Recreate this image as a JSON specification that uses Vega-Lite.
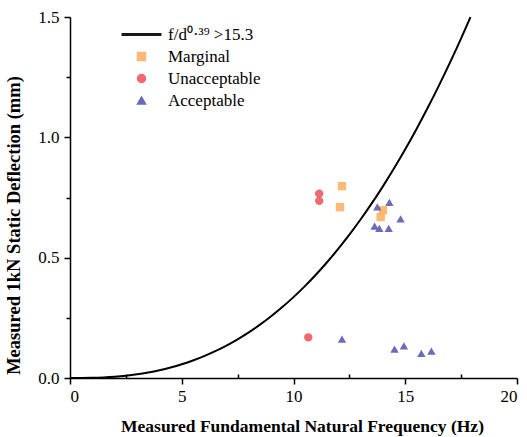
{
  "$schema": "https://vega.github.io/schema/vega-lite/v6.json",
  "width": 447,
  "height": 361,
  "autosize": {"type": "none"},
  "padding": {"left": 70, "top": 17, "right": 10, "bottom": 59},
  "background": "white",
  "config": {
    "view": {"stroke": null},
    "font": "Liberation Serif, Times New Roman, serif",
    "legend": {"labelFont": "Liberation Serif, Times New Roman, serif"},
    "axis": {
      "domainColor": "black", "domainWidth": 1.5, "tickColor": "black", "tickWidth": 1.5,
      "labelFont": "Liberation Serif, Times New Roman, serif", "labelFontSize": 17, "labelColor": "black",
      "titleFont": "Liberation Serif, Times New Roman, serif", "titleFontSize": 17.5, "titleFontWeight": "bold", "titleColor": "black",
      "grid": false
    }
  },
  "data": {"values": [
    {"f": 12.17, "d": 0.797, "type": "Marginal"},
    {"f": 12.08, "d": 0.71, "type": "Marginal"},
    {"f": 14.0, "d": 0.697, "type": "Marginal"},
    {"f": 13.9, "d": 0.669, "type": "Marginal"},
    {"f": 11.15, "d": 0.766, "type": "Unacceptable"},
    {"f": 11.15, "d": 0.736, "type": "Unacceptable"},
    {"f": 10.66, "d": 0.169, "type": "Unacceptable"},
    {"f": 13.75, "d": 0.711, "type": "Acceptable"},
    {"f": 14.29, "d": 0.73, "type": "Acceptable"},
    {"f": 14.79, "d": 0.661, "type": "Acceptable"},
    {"f": 13.63, "d": 0.631, "type": "Acceptable"},
    {"f": 13.84, "d": 0.622, "type": "Acceptable"},
    {"f": 14.26, "d": 0.622, "type": "Acceptable"},
    {"f": 12.17, "d": 0.162, "type": "Acceptable"},
    {"f": 14.52, "d": 0.12, "type": "Acceptable"},
    {"f": 14.94, "d": 0.133, "type": "Acceptable"},
    {"f": 15.72, "d": 0.102, "type": "Acceptable"},
    {"f": 16.17, "d": 0.112, "type": "Acceptable"},
    {"f": 0, "d": 0, "type": "f/d⁰·³⁹ >15.3"},
    {"f": 0.5, "d": 0.000155, "type": "f/d⁰·³⁹ >15.3"},
    {"f": 1, "d": 0.000918, "type": "f/d⁰·³⁹ >15.3"},
    {"f": 1.5, "d": 0.00259, "type": "f/d⁰·³⁹ >15.3"},
    {"f": 2, "d": 0.00542, "type": "f/d⁰·³⁹ >15.3"},
    {"f": 2.5, "d": 0.00961, "type": "f/d⁰·³⁹ >15.3"},
    {"f": 3, "d": 0.01533, "type": "f/d⁰·³⁹ >15.3"},
    {"f": 3.5, "d": 0.02278, "type": "f/d⁰·³⁹ >15.3"},
    {"f": 4, "d": 0.03206, "type": "f/d⁰·³⁹ >15.3"},
    {"f": 4.5, "d": 0.04339, "type": "f/d⁰·³⁹ >15.3"},
    {"f": 5, "d": 0.05685, "type": "f/d⁰·³⁹ >15.3"},
    {"f": 5.5, "d": 0.07256, "type": "f/d⁰·³⁹ >15.3"},
    {"f": 6, "d": 0.09072, "type": "f/d⁰·³⁹ >15.3"},
    {"f": 6.5, "d": 0.11138, "type": "f/d⁰·³⁹ >15.3"},
    {"f": 7, "d": 0.13466, "type": "f/d⁰·³⁹ >15.3"},
    {"f": 7.5, "d": 0.16072, "type": "f/d⁰·³⁹ >15.3"},
    {"f": 8, "d": 0.18965, "type": "f/d⁰·³⁹ >15.3"},
    {"f": 8.5, "d": 0.22153, "type": "f/d⁰·³⁹ >15.3"},
    {"f": 9, "d": 0.25653, "type": "f/d⁰·³⁹ >15.3"},
    {"f": 9.5, "d": 0.29462, "type": "f/d⁰·³⁹ >15.3"},
    {"f": 10, "d": 0.33606, "type": "f/d⁰·³⁹ >15.3"},
    {"f": 10.5, "d": 0.38084, "type": "f/d⁰·³⁹ >15.3"},
    {"f": 11, "d": 0.42905, "type": "f/d⁰·³⁹ >15.3"},
    {"f": 11.5, "d": 0.48092, "type": "f/d⁰·³⁹ >15.3"},
    {"f": 12, "d": 0.5364, "type": "f/d⁰·³⁹ >15.3"},
    {"f": 12.5, "d": 0.59557, "type": "f/d⁰·³⁹ >15.3"},
    {"f": 13, "d": 0.65857, "type": "f/d⁰·³⁹ >15.3"},
    {"f": 13.5, "d": 0.72547, "type": "f/d⁰·³⁹ >15.3"},
    {"f": 14, "d": 0.79637, "type": "f/d⁰·³⁹ >15.3"},
    {"f": 14.5, "d": 0.87135, "type": "f/d⁰·³⁹ >15.3"},
    {"f": 15, "d": 0.95049, "type": "f/d⁰·³⁹ >15.3"},
    {"f": 15.5, "d": 1.03386, "type": "f/d⁰·³⁹ >15.3"},
    {"f": 16, "d": 1.12154, "type": "f/d⁰·³⁹ >15.3"},
    {"f": 16.5, "d": 1.21364, "type": "f/d⁰·³⁹ >15.3"},
    {"f": 17, "d": 1.31017, "type": "f/d⁰·³⁹ >15.3"},
    {"f": 17.5, "d": 1.41126, "type": "f/d⁰·³⁹ >15.3"},
    {"f": 17.92, "d": 1.4998, "type": "f/d⁰·³⁹ >15.3"}
  ]},
  "encoding": {
    "x": {"field": "f", "type": "quantitative",
      "scale": {"domain": [0, 20], "nice": false},
      "axis": {"title": "Measured Fundamental Natural Frequency (Hz)", "values": [0, 2.5, 5, 7.5, 10, 12.5, 15, 17.5, 20],
        "labelExpr": "datum.value % 5 ? '' : datum.label",
        "tickSize": {"condition": {"test": "datum.value % 5", "value": -4}, "value": 6},
        "labelPadding": 4, "titlePadding": 13, "titleX": 232}},
    "y": {"field": "d", "type": "quantitative",
      "scale": {"domain": [0, 1.5], "nice": false},
      "axis": {"title": "Measured 1kN Static Deflection (mm)", "titleFontSize": 18.5, "values": [0, 0.25, 0.5, 0.75, 1, 1.25, 1.5],
        "labelExpr": "datum.value % 0.5 ? '' : format(datum.value, '.1f')",
        "tickSize": {"condition": {"test": "datum.value % 0.5", "value": 4}, "value": 6},
        "labelPadding": 5, "titlePadding": 14, "titleY": 208}}
  },
  "layer": [
    {
      "transform": [{"filter": "datum.type != 'f/d⁰·³⁹ >15.3'"}],
      "mark": {"type": "point", "filled": true, "opacity": 0.9, "size": 70},
      "encoding": {
        "color": {"field": "type", "type": "nominal",
          "scale": {"domain": ["f/d⁰·³⁹ >15.3", "Marginal", "Unacceptable", "Acceptable"], "range": ["black", "#FDB366", "#EF5A60", "#5B5BB0"]},
          "legend": {"title": null, "orient": "none", "legendX": 63, "legendY": 9, "padding": 0,
            "labelFontSize": 17, "labelColor": "black", "labelOffset": 18, "rowPadding": 4, "symbolSize": 64, "symbolOpacity": 0.9}},
        "shape": {"field": "type", "type": "nominal",
          "scale": {"domain": ["f/d⁰·³⁹ >15.3", "Marginal", "Unacceptable", "Acceptable"], "range": ["M-4.8,-0.2H4.8V0.2H-4.8Z", "square", "circle", "triangle-up"]},
          "legend": {"title": null, "orient": "none", "legendX": 63, "legendY": 9, "padding": 0,
            "labelFontSize": 17, "labelColor": "black", "labelOffset": 18, "rowPadding": 4, "symbolSize": 64, "symbolOpacity": 0.9}}
      }
    },
    {
      "transform": [{"filter": "datum.type == 'f/d⁰·³⁹ >15.3'"}],
      "mark": {"type": "line", "strokeWidth": 2, "interpolate": "monotone"},
      "encoding": {
        "color": {"field": "type", "type": "nominal"}
      }
    }
  ]
}
